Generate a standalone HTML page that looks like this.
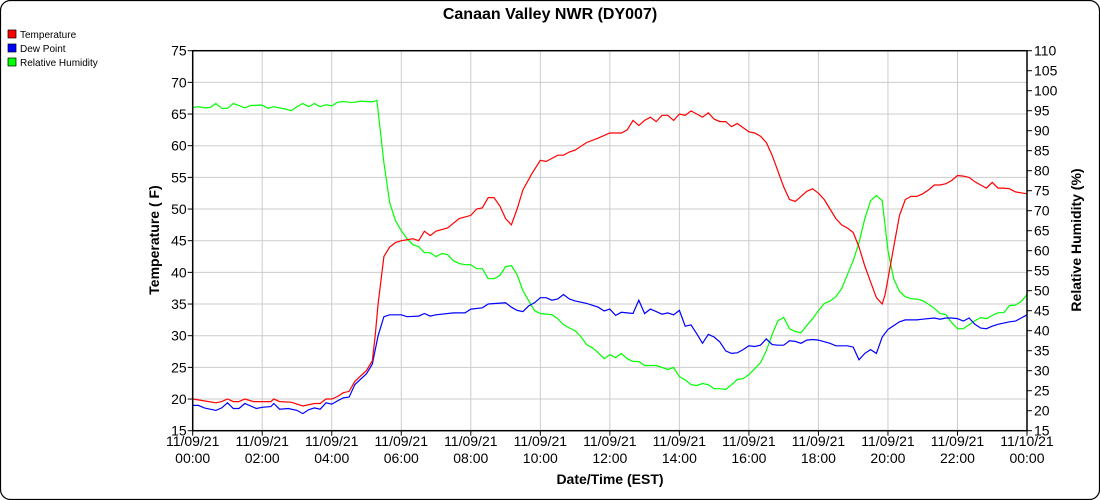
<!DOCTYPE html>
<html><head><meta charset="utf-8"><style>
html,body{margin:0;padding:0;background:#fff;width:1100px;height:500px;overflow:hidden}
svg{display:block;font-family:"Liberation Sans",sans-serif}
</style></head><body>
<svg id="s" width="1100" height="500" xmlns="http://www.w3.org/2000/svg">
<rect x="0.5" y="0.5" width="1099" height="499" rx="10" fill="#fff" stroke="#000" stroke-width="1.2"/>
<text x="550" y="19" text-anchor="middle" font-size="16" font-weight="bold">Canaan Valley NWR (DY007)</text>
<rect x="8" y="30" width="8" height="8" fill="#f00" stroke="#000" stroke-width="0.7"/><text x="20" y="38" font-size="10">Temperature</text>
<rect x="8" y="44" width="8" height="8" fill="#00f" stroke="#000" stroke-width="0.7"/><text x="20" y="52" font-size="10">Dew Point</text>
<rect x="8" y="58" width="8" height="8" fill="#0f0" stroke="#000" stroke-width="0.7"/><text x="20" y="66" font-size="10">Relative Humidity</text>
<g id="g"></g>
<text transform="translate(159,240) rotate(-90)" text-anchor="middle" font-size="14" font-weight="bold">Temperature ( F)</text>
<text transform="translate(1081,240) rotate(-90)" text-anchor="middle" font-size="14" font-weight="bold">Relative Humidity (%)</text>
<text x="610" y="484" text-anchor="middle" font-size="14" font-weight="bold">Date/Time (EST)</text>
</svg>
<script>
const X0=192.7,X1=1027,Y0=430.7,Y1=50.7;
const xs=m=>X0+(X1-X0)*m/1440;
const yt=v=>Y0-(v-15)*(Y0-Y1)/60;
const yr=v=>Y0-(v-15)*(Y0-Y1)/95;
let h='';
for(let i=0;i<=12;i++){const x=xs(i*120);h+=`<line x1="${x}" y1="${Y1}" x2="${x}" y2="${Y0}" stroke="#ccc"/>`;
h+=`<line x1="${x}" y1="${Y0}" x2="${x}" y2="${Y0+5}" stroke="#000"/>`;
const d=i==12?'11/10/21':'11/09/21';const hh=i==12?'00:00':String(i*2).padStart(2,'0')+':00';
h+=`<text x="${x}" y="446" text-anchor="middle" font-size="14">${d}</text><text x="${x}" y="463" text-anchor="middle" font-size="14">${hh}</text>`;}
for(let v=15;v<=75;v+=5){const y=yt(v);h+=`<line x1="${X0}" y1="${y}" x2="${X1}" y2="${y}" stroke="#ccc"/><line x1="${X0-5}" y1="${y}" x2="${X0}" y2="${y}" stroke="#000"/><text x="${X0-6}" y="${y+5}" text-anchor="end" font-size="14">${v}</text>`;}
for(let v=15;v<=110;v+=5){const y=yr(v);h+=`<line x1="${X1}" y1="${y}" x2="${X1+5}" y2="${y}" stroke="#000"/><text x="${X1+7}" y="${y+5}" font-size="14">${v}</text>`;}
function P(s,f){return s.trim().split(/\s*,\s*/).map(p=>{const [t,v]=p.split(' ');const [a,b]=t.split(':');return xs(a*60+ +b).toFixed(1)+','+f(+v).toFixed(1)}).join(' ')}
const T="0:00 20,0:20 19.7,0:40 19.4,0:50 19.6,1:00 20,1:10 19.6,1:20 19.6,1:30 20,1:45 19.6,2:00 19.6,2:15 19.6,2:20 20,2:30 19.6,2:50 19.5,3:10 18.9,3:30 19.3,3:40 19.3,3:50 20,4:00 20,4:10 20.4,4:20 21,4:30 21.2,4:40 22.8,5:00 24.5,5:10 26,5:15 30,5:20 35,5:30 42.5,5:40 44,5:50 44.7,6:00 45,6:20 45.3,6:30 45,6:40 46.5,6:50 45.8,7:00 46.5,7:20 47,7:40 48.5,8:00 49,8:10 50,8:20 50.2,8:30 51.8,8:40 51.8,8:50 50.5,9:00 48.5,9:10 47.5,9:20 50,9:30 53,9:45 55.5,10:00 57.7,10:10 57.5,10:20 58,10:30 58.5,10:40 58.5,10:50 59,11:00 59.3,11:20 60.5,11:40 61.2,12:00 62,12:20 62,12:30 62.5,12:40 64,12:50 63.2,13:00 64,13:10 64.5,13:20 63.8,13:30 64.8,13:40 64.8,13:50 64,14:00 65,14:10 64.8,14:20 65.5,14:30 65,14:40 64.5,14:50 65.2,15:00 64.2,15:10 63.8,15:20 63.8,15:30 63,15:40 63.5,16:00 62.2,16:10 62,16:20 61.5,16:30 60.5,16:40 58.5,16:50 56,17:00 53.5,17:10 51.5,17:20 51.2,17:30 52,17:40 52.8,17:50 53.2,18:00 52.5,18:10 51.5,18:20 50,18:30 48.5,18:40 47.5,18:50 47,19:00 46.3,19:10 44,19:20 41,19:30 38.5,19:40 36,19:50 35,19:55 36.5,20:00 39,20:10 44,20:20 49,20:30 51.5,20:40 52,20:50 52,21:00 52.4,21:10 53,21:20 53.8,21:30 53.8,21:40 54,21:50 54.5,22:00 55.3,22:10 55.2,22:20 55,22:30 54.3,22:40 53.8,22:50 53.3,23:00 54.2,23:10 53.3,23:20 53.3,23:30 53.2,23:40 52.7,24:00 52.4";
const D="0:00 19,0:10 19,0:20 18.6,0:40 18.2,0:50 18.6,1:00 19.4,1:10 18.5,1:20 18.5,1:30 19.3,1:50 18.5,2:00 18.7,2:15 18.8,2:20 19.3,2:30 18.4,2:45 18.5,3:00 18.2,3:10 17.7,3:20 18.3,3:30 18.6,3:40 18.4,3:50 19.4,4:00 19.2,4:10 19.7,4:20 20.2,4:30 20.3,4:40 22.3,5:00 24,5:10 25.5,5:20 30,5:30 33,5:40 33.3,6:00 33.3,6:10 33,6:30 33.1,6:40 33.5,6:50 33.1,7:00 33.3,7:30 33.6,7:50 33.6,8:00 34.2,8:20 34.4,8:30 35,9:00 35.2,9:10 34.5,9:20 34,9:30 33.8,9:40 34.7,9:50 35.2,10:00 36,10:10 36,10:20 35.6,10:30 35.8,10:40 36.5,10:50 35.8,11:00 35.5,11:20 35.1,11:30 34.8,11:40 34.5,11:50 33.9,12:00 34.2,12:10 33.2,12:20 33.7,12:30 33.6,12:40 33.5,12:50 35.6,13:00 33.5,13:10 34.2,13:20 33.8,13:30 33.4,13:40 33.6,13:50 33.3,14:00 34,14:10 31.5,14:20 31.7,14:30 30.3,14:40 28.8,14:50 30.2,15:00 29.8,15:10 29,15:20 27.6,15:30 27.2,15:40 27.3,15:50 27.8,16:00 28.4,16:10 28.3,16:20 28.5,16:30 29.5,16:40 28.6,16:50 28.5,17:00 28.5,17:10 29.2,17:20 29.1,17:30 28.8,17:40 29.3,17:50 29.4,18:00 29.3,18:20 28.8,18:30 28.4,18:40 28.4,18:50 28.4,19:00 28.2,19:10 26.2,19:20 27.2,19:30 27.8,19:40 27.2,19:50 29.8,20:00 31,20:20 32.2,20:30 32.5,20:50 32.5,21:00 32.6,21:20 32.8,21:30 32.6,21:40 32.8,21:50 32.8,22:00 32.7,22:10 32.3,22:20 32.8,22:30 31.8,22:40 31.2,22:50 31.1,23:00 31.5,23:10 31.8,23:30 32.2,23:40 32.3,23:50 32.8,24:00 33.3";
const R="0:00 95.8,0:10 96,0:20 95.7,0:30 95.8,0:40 96.8,0:50 95.6,1:00 95.6,1:10 96.8,1:20 96.3,1:30 95.7,1:40 96.3,2:00 96.4,2:10 95.6,2:20 96,2:40 95.4,2:50 95,3:00 96,3:10 96.8,3:20 96,3:30 96.8,3:40 96,3:50 96.5,4:00 96.2,4:10 97.1,4:20 97.3,4:30 97.1,4:40 97.1,4:50 97.4,5:00 97.3,5:10 97.2,5:18 97.6,5:30 82,5:40 72,5:50 67.5,6:00 65,6:10 63,6:20 61.5,6:30 61,6:40 59.5,6:50 59.5,7:00 58.5,7:10 59.3,7:20 59,7:30 57.5,7:40 56.8,7:50 56.5,8:00 56.5,8:10 55.5,8:20 55.5,8:30 53,8:40 53,8:50 53.8,9:00 56,9:10 56.3,9:20 54,9:30 50,9:40 47.5,9:50 45,10:00 44.3,10:20 44,10:30 43,10:40 41.5,10:50 40.7,11:00 40,11:10 38.5,11:20 36.5,11:30 35.7,11:40 34.5,11:50 33,12:00 34,12:10 33.3,12:20 34.3,12:30 33,12:40 32.3,12:50 32.3,13:00 31.3,13:10 31.3,13:20 31.3,13:30 30.8,13:40 30.3,13:50 30.8,14:00 28.5,14:10 27.7,14:20 26.5,14:30 26.3,14:40 26.8,14:50 26.5,15:00 25.5,15:10 25.5,15:20 25.3,15:30 26.5,15:40 27.8,15:50 28,16:00 29,16:10 30.5,16:20 32,16:30 35,16:40 39,16:50 42.5,17:00 43.3,17:10 40.5,17:20 39.8,17:30 39.5,17:40 41.3,17:50 43,18:00 45,18:10 46.8,18:20 47.4,18:30 48.5,18:40 50.5,18:50 54,19:00 57.5,19:10 62,19:20 68,19:30 72.5,19:40 73.8,19:50 72.5,20:00 60,20:10 53,20:20 49.8,20:30 48.5,20:40 48,20:50 47.9,21:00 47.5,21:10 46.6,21:20 45.6,21:30 44.3,21:40 44,21:50 42,22:00 40.5,22:10 40.5,22:20 41.5,22:30 42.5,22:40 43.3,22:50 43,23:00 43.8,23:10 44.5,23:20 44.5,23:30 46.3,23:40 46.4,23:50 47.3,24:00 49";
h+=`<polyline points="${P(R,yr)}" fill="none" stroke="#0f0" stroke-width="1.2"/>`;
h+=`<polyline points="${P(D,yt)}" fill="none" stroke="#00f" stroke-width="1.2"/>`;
h+=`<polyline points="${P(T,yt)}" fill="none" stroke="#f00" stroke-width="1.2"/>`;
h+=`<rect x="${X0}" y="${Y1}" width="${X1-X0}" height="${Y0-Y1}" fill="none" stroke="#000" stroke-width="1.5"/>`;
document.getElementById('g').innerHTML=h;
</script>
</body></html>
